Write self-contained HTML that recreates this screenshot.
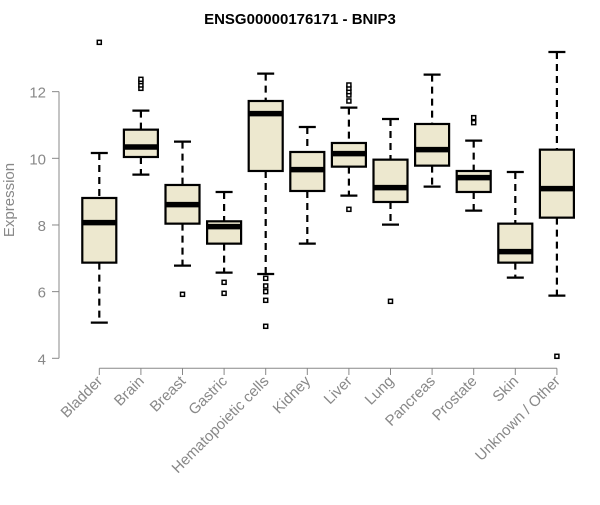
<!DOCTYPE html>
<html><head><meta charset="utf-8"><style>
html,body{margin:0;padding:0;background:#fff;}
svg text{font-family:"Liberation Sans",Arial,sans-serif;}
</style></head><body>
<svg id="chart" width="600" height="500" xmlns="http://www.w3.org/2000/svg">
<text x="300" y="24" text-anchor="middle" font-size="15" font-weight="bold">ENSG00000176171 - BNIP3</text>
<text transform="translate(14,200) rotate(-90)" text-anchor="middle" font-size="15" fill="#888">Expression</text>
<g id="yaxis"></g>
<g id="xaxis"></g>
<g id="boxes"></g>
</svg>
<script>
const categories=["Bladder","Brain","Breast","Gastric","Hematopoietic cells","Kidney","Liver","Lung","Pancreas","Prostate","Skin","Unknown / Other"];
const whiskerLow=[5.07,9.51,6.78,6.57,6.53,7.44,8.88,8.01,9.15,8.43,6.42,5.88];
const q1=[6.87,10.04,8.04,7.44,9.62,9.02,9.75,8.69,9.78,8.99,6.87,8.22];
const medians=[8.07,10.34,8.61,7.95,11.34,9.66,10.14,9.12,10.26,9.42,7.2,9.09];
const q3=[8.81,10.86,9.2,8.11,11.72,10.19,10.46,9.96,11.03,9.62,8.04,10.26];
const whiskerHigh=[10.16,11.43,10.5,8.99,12.54,10.94,11.52,11.18,12.51,10.53,9.59,13.19];
const outliers=[[13.48],[12.1,12.2,12.3,12.37],[5.92],[6.28,5.95],[6.4,6.17,6.0,5.74,4.96],[],[8.47,11.72,11.9,12.0,12.1,12.2],[5.71],[],[11.22,11.07],[],[4.06]];
const yTicks=[4,6,8,10,12];
const NS="http://www.w3.org/2000/svg";
function y(v){return 358.3-(v-4)*33.33;}
function x(i){return 99.3+41.6*i;}
function mk(tag,attrs,parent){const e=document.createElementNS(NS,tag);for(const k in attrs)e.setAttribute(k,attrs[k]);parent.appendChild(e);return e;}
const ya=document.getElementById('yaxis'),xa=document.getElementById('xaxis'),bx=document.getElementById('boxes');
mk('line',{x1:59,x2:59,y1:y(4),y2:y(12),stroke:'#888'},ya);
yTicks.forEach(t=>{
 mk('line',{x1:52,x2:59,y1:y(t),y2:y(t),stroke:'#888'},ya);
 const tx=mk('text',{x:46,y:y(t)+6,'text-anchor':'end','font-size':15,fill:'#888'},ya);
 tx.textContent=t;
 
 
});
mk('line',{x1:x(0),x2:x(categories.length-1),y1:368.3,y2:368.3,stroke:'#888'},xa);
categories.forEach((c,i)=>{
 mk('line',{x1:x(i),x2:x(i),y1:368.3,y2:375,stroke:'#888'},xa);
 const tx=mk('text',{transform:`translate(${x(i)+4},${382}) rotate(-45)`,'text-anchor':'end','font-size':15,fill:'#888'},xa);
 tx.textContent=c;
 
 
 const g=mk('g',{},bx);
 
 
 const cx=x(i),hw=17,cw=8.5;
 mk('line',{x1:cx,x2:cx,y1:y(whiskerHigh[i]),y2:y(q3[i]),stroke:'#000','stroke-width':2.2,'stroke-dasharray':'7,5'},g);
 mk('line',{x1:cx,x2:cx,y1:y(q1[i]),y2:y(whiskerLow[i]),stroke:'#000','stroke-width':2.2,'stroke-dasharray':'7,5'},g);
 mk('line',{x1:cx-cw,x2:cx+cw,y1:y(whiskerHigh[i]),y2:y(whiskerHigh[i]),stroke:'#000','stroke-width':2.2},g);
 mk('line',{x1:cx-cw,x2:cx+cw,y1:y(whiskerLow[i]),y2:y(whiskerLow[i]),stroke:'#000','stroke-width':2.2},g);
 mk('rect',{x:cx-hw,y:y(q3[i]),width:2*hw,height:y(q1[i])-y(q3[i]),fill:'#ede8cf',stroke:'#000','stroke-width':2.2},g);
 mk('line',{x1:cx-hw,x2:cx+hw,y1:y(medians[i]),y2:y(medians[i]),stroke:'#000','stroke-width':5.5},g);
 outliers[i].forEach(o=>{mk('rect',{x:cx-2,y:y(o)-2,width:4,height:4,fill:'#fff',stroke:'#000','stroke-width':1.5},g);});
});
</script>
</body></html>
